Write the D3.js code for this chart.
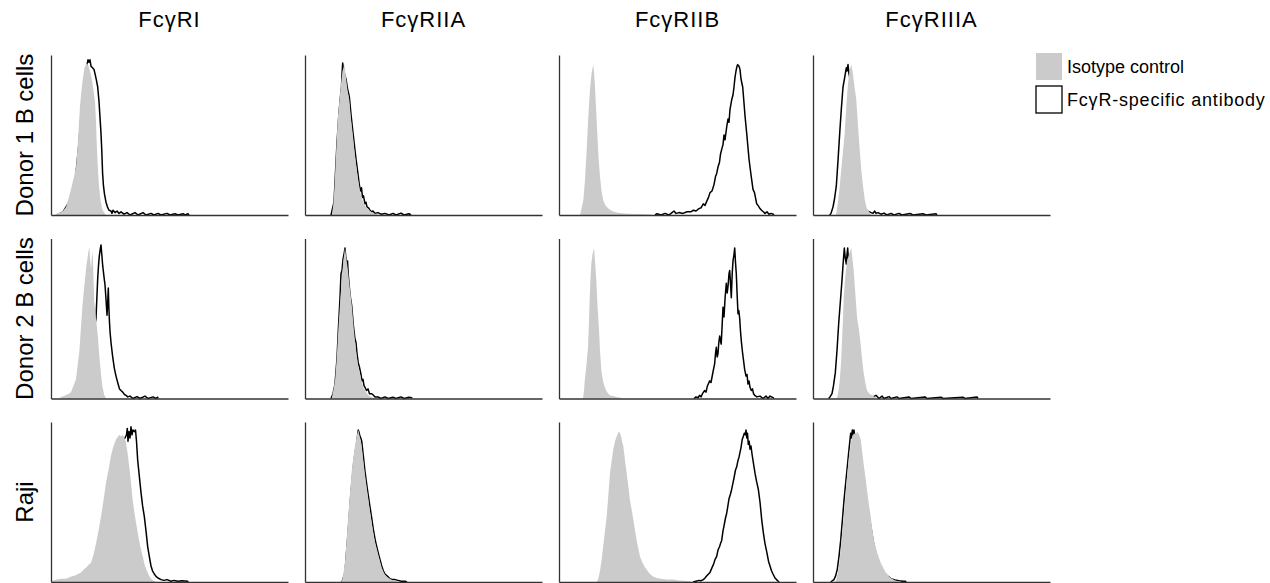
<!DOCTYPE html>
<html>
<head>
<meta charset="utf-8">
<script src="https://cdn.jsdelivr.net/npm/d3@7"></script>
<style>
  body { margin: 0; background: #fff; }
  text { font-family: "Liberation Sans", Arial, sans-serif; fill: #000; }
</style>
</head>
<body>
<div id="chart"></div>
<script>
const columns = ["FcγRI", "FcγRIIA", "FcγRIIB", "FcγRIIIA"];
const rows = ["Donor 1 B cells", "Donor 2 B cells", "Raji"];
const legendLabels = ["Isotype control", "FcγR-specific antibody"];

// histograms as [channel, % of max count]
// Donor 1 B cells
const d1RIiso = [[4,0],[6,1],[9,1.5],[12,2.5],[15,5],[17,9],[20,16],[23,24],[25,30],[26.5,42],[27.5,52],[29,68],[30.5,78],[32,86],[33.5,92],[35,94],[36,95],[37.5,93],[39,90],[41,84],[42.5,78],[44,71],[45,58],[46,40],[47,28],[48,18],[49.5,9],[51,4],[53,1.5],[55,0]];
const d1RIab = [[6,0],[12,2],[18,8],[24,20],[28,45],[31,72],[34,88],[36,94],[37,97],[38,95.5],[39,97],[40,93],[41.5,92],[43,91],[44.5,87],[45.5,84],[46.7,80],[48,71],[49,61],[50,51],[50.8,40],[51.6,26],[52.5,18],[53.5,13],[55,8],[56.5,5],[58,3],[60,2.5],[61,1],[62,3],[64,1.5],[66,2.5],[68,1],[70,2],[73,0.5],[76,1.5],[79,0],[84,1.5],[87,0],[92,1.5],[95,0],[100,1],[103,0],[107,1],[110,0],[116,1],[119,0],[124,0.8],[127,0],[132,0.8],[134,0],[137,0.8],[138,0]];
const d1RIIAiso = [[27,0],[28.5,8],[29.5,18],[31,38],[32.7,60],[34.5,72],[36,82],[37.5,90],[39.3,94],[41,86],[42.5,78],[44.3,72],[46,60],[47.7,51],[49.5,40],[51,32],[52.7,24],[54.5,17],[56,12],[57.7,9],[60,6],[62.7,4],[66,2],[69,1],[72,0.5],[75,0]];
const d1RIIAab = [[26,0],[29,8],[32,45],[34,64],[35.5,74],[36.5,80],[37,88],[37.7,95],[38.5,91],[39.5,88],[41,85],[42.5,79],[44.3,74],[46,63],[47.7,53],[49.5,43],[51,35],[52.7,27],[54.3,19],[55.5,15],[56.5,17],[57.5,11],[58.5,12],[60,7],[61,8],[62,5],[63.5,4.5],[65,3],[66.5,2],[68,2.5],[70,1],[73,1.5],[76,0.5],[80,1],[84,0],[88,1],[91,0],[96,1.2],[99,0],[104,0.8],[106,0]];
const d1RIIBiso = [[21,0],[22.5,4],[24.3,9],[26,22],[27.7,41],[29,58],[30.3,72],[31.5,82],[32.7,89],[34.3,94],[35.2,88],[36,80],[37.2,65],[38.3,51],[39.5,36],[41,24],[42.5,15],[44.3,9],[46.5,6],[49.3,4],[53,2.5],[57.7,1.5],[65,1],[75,0.7],[85,0.5],[91,0.3],[93,0]];
const d1RIIBab = [[96,0],[98,0.8],[102,0],[106,1],[110,0],[113,1.5],[115,2.5],[117,1],[120,1.5],[124,1],[128,2],[132,2],[134.3,3],[137,2.5],[140,4],[142,4.5],[144.3,7],[146,6],[148,9],[149.5,11],[151,14],[153,15],[155,19],[156.5,24],[157.7,26],[159,30],[160.5,33],[161.5,38],[162.7,41],[164,44],[165,50],[166,47],[167.7,55],[169,60],[170,58],[171,66],[172.7,72],[174,75],[175,80],[176,86],[177,90],[178,93],[178.7,94],[180,93],[181,91],[182,85],[183.7,80],[185,70],[186,62],[187.7,51],[189,42],[190,35],[191,30],[192.7,22],[194,16],[195.5,14],[197.7,7],[199,6],[201,4],[202.5,3],[204.3,2],[206,1],[208,2],[210,0.5],[212,1],[214.3,0.5],[215,0]];
const d1RIIIAiso = [[23,0],[25,8],[26.7,18],[28.5,30],[30,40],[31.7,51],[33.3,68],[35,82],[36.5,90],[38.3,94],[40,88],[41.5,80],[43.3,72],[45,56],[46.7,41],[48.3,28],[50,18],[51.7,10],[53.3,5],[55,3],[56.7,1.5],[58,0]];
const d1RIIIAab = [[16.7,0],[18,1],[20,5],[21.5,10],[23.3,18],[25,34],[26.7,51],[28.3,66],[30,80],[31.7,86],[33.3,92],[34,90],[35,94],[35.8,89],[36.7,86],[38,78],[40,62],[42,48],[44,36],[46,24],[48,14],[50,8],[52,4],[54,2.5],[56,2],[58,1.5],[60,1],[61.7,2.5],[63,1],[65,1.5],[68,0.5],[71,1.2],[74,0],[78,1],[81,0],[86,1],[89,0],[97,1],[100,0],[110,0.8],[113,0],[123,0.8],[124,0]];

// Donor 2 B cells
const d2RIiso = [[8,0],[10,1],[13,1.5],[16,2.5],[18,3],[20,4],[22.5,8],[25,12],[26.5,20],[28.3,29],[30,45],[31.7,60],[33.3,70],[35,81],[36.5,88],[37.5,92],[38.3,95],[39,88],[40,81],[40.8,88],[41.7,92],[42.5,75],[43.3,60],[45,50],[46.7,40],[48.3,27],[50,15],[51.5,7],[53.3,2],[55,0]];
const d2RIab = [[18,0],[24,4],[30,12],[36,24],[40,36],[43,44],[44.5,48],[45,50],[45.8,62],[46.7,75],[47.5,83],[48.3,89],[49.2,93],[50,96],[50.8,90],[51.7,83],[53,76],[54,71],[55,62],[56,52],[56.7,60],[57.3,69],[57.8,58],[58.3,50],[59,42],[60,35],[61.5,27],[63.3,19],[65,14],[66.7,10],[68.5,6],[70,5],[71.7,4],[73.5,2.5],[75,2],[76.7,1],[79,1.5],[82,0],[86,1.2],[89,0],[94,1.5],[97,0],[102,1],[105,0],[106.7,0.8],[107,0]];
const d2RIIAiso = [[26.7,0],[28.3,5],[30,11],[31.7,25],[33.3,43],[35,59],[36.7,74],[38.3,86],[40,94],[41.7,86],[43.3,78],[45,68],[46.7,59],[48.3,47],[50,36],[51.7,27],[53.3,20],[55.8,13],[58.3,7],[60.8,4],[63.3,2],[66,1],[68.3,0.5],[70,0]];
const d2RIIAab = [[26,0],[28,3],[30,9],[32,25],[33.5,45],[35,63],[36,78],[37,80],[38,87],[39,90],[40,94],[40.8,88],[41.7,84],[42.5,86],[43.3,77],[45,65],[46.7,58],[48.3,46],[50,37],[51,35],[52,28],[53.3,22],[54.3,20],[55,18],[56,15],[57,11],[58,12],[59,8],[60,7],[61.5,5],[63,6],[64.5,3],[66.7,3],[68.5,2],[70,1],[73,1],[76,0],[80,1],[83,0],[88,0.8],[91,0],[96,1],[99,0],[104,0.8],[106.7,0.5],[107,0]];
const d2RIIBiso = [[24,0],[25,5],[25.7,11],[27.3,20],[29,32],[30,48],[30.7,63],[31.5,75],[32.3,84],[33.5,90],[35,94],[36.2,84],[37.3,74],[38.5,58],[40,43],[41,30],[42.3,18],[44,11],[45.7,7],[48,4],[50.7,2],[54,1.5],[57.3,1],[62,0.5],[65,0]];
const d2RIIBab = [[135,0],[137,1],[139,0.5],[140.7,2],[142,1],[143.5,3],[145.7,5],[147,4],[148.5,8],[150.7,11],[152,10],[153.5,15],[155.7,22],[156.5,28],[157.3,32],[158.2,26],[159,28],[159.8,35],[160.7,39],[161.5,36],[162.2,34],[163,44],[164,57],[165,51],[166,62],[167.3,72],[168.2,66],[169,70],[170,78],[170.7,80],[171.5,72],[172.3,63],[173.2,78],[174,86],[175,90],[175.7,94],[176.5,85],[177.3,78],[178.2,64],[179,53],[179.8,55],[180.7,50],[181.5,42],[182.3,36],[183.3,30],[184.5,24],[185.7,18],[187,14],[188,15],[189,9],[190,11],[191,7],[192.3,5],[193.5,6],[194.5,3],[195.7,2],[198,1],[201,1.5],[204,0],[207,1.5],[209,0],[211,1.5],[214,0.5],[215,0]];
const d2RIIIAiso = [[24,0],[25.5,5],[26.7,11],[28,22],[29,36],[30,50],[30.7,63],[32.3,76],[34,86],[36,90],[38.3,94],[39.5,87],[40.7,80],[42.3,66],[44,51],[45.7,44],[47.3,36],[49,25],[50.7,16],[52.3,10],[54,5],[56.5,3],[59,2],[62,1],[65,0]];
const d2RIIIAab = [[15.7,0],[17,1],[19,3],[20.5,8],[22.3,16],[24,30],[25.7,47],[27.3,60],[29,74],[30.2,85],[31.3,94],[32.2,88],[33.3,84],[34,90],[34.7,94],[35.5,86],[36.5,78],[38,70],[40,58],[42,45],[44,34],[46,24],[48,15],[50,9],[52,5],[54,3],[56,2],[58,1.5],[60,1],[63,2],[66,0],[69,1.5],[71,0],[76,1.2],[78,0],[84,1],[86,0],[96,1],[98,0],[112,1],[114,0],[128,0.8],[130,0],[150,0.8],[152,0],[164,1],[165,0]];

// Raji
const rjRIiso = [[0,0],[2,1],[6,1.5],[10,2],[14,2],[17,2.5],[20,3.5],[24,4],[27,5],[30,6],[33,8],[36,9.5],[38,11],[40,12],[42.5,17],[45,24],[47.5,32],[50,41],[52.5,51],[55,62],[57.5,70],[60,79],[62.5,85],[65,89],[67,91],[68.5,92],[70,91],[71.7,92],[73.5,90],[75,87],[76.7,80],[78.3,72],[80,62],[81.7,51],[84,41],[86.7,31],[89,23],[91.7,16],[94,10],[96.7,6],[98.5,3.5],[100,2],[102,1],[105,0]];
const rjRIab = [[20,0],[30,3],[40,8],[50,30],[58,60],[64,80],[70,88],[74,90],[75.5,92],[76.3,96],[77,88],[78,94],[79,90],[80,97],[81,92],[82,95],[83.3,94],[84.5,95],[85.5,88],[86.7,76],[88,68],[90,56],[91.5,48],[93.3,41],[95,32],[96.7,22],[98.3,16],[100,10],[101.5,7],[103.3,5],[105,3.5],[107,2.5],[110,1.5],[113,1],[116,1.5],[120,0.5],[123,1],[127,0.5],[131,0.8],[136.7,0.5],[137,0]];
const rjRIIAiso = [[36.7,0],[38.3,5],[40,12.5],[41.7,27],[43.3,42],[45,56],[46.7,69],[48.3,78],[50,85],[51.7,91],[53.3,95],[55,90],[56.7,85],[58.3,76],[60,67],[61.7,59],[63.3,52],[65,44],[66.7,37],[68.3,31],[70,25],[71.7,21],[73.3,17],[75,13],[76.7,9],[78.3,6.5],[80,4.5],[82.5,3],[85,2],[88,1],[91,0.5],[94,0]];
const rjRIIAab = [[37,0],[40,6],[43,30],[46,56],[49,76],[51.5,86],[53.3,95],[54.2,93],[55,91],[55.8,90],[56.7,88],[58.3,79],[60,69],[61.7,61],[63.3,54],[65,47],[66.7,40],[68.3,33],[70,27],[71.7,22],[73.3,18],[75,14],[76.7,10],[78.3,7],[80,5],[82.5,3.5],[85,2],[87.5,1.5],[90,1.5],[93,1],[96,0.5],[100,0.5],[102,0]];
const rjRIIBiso = [[38,0],[39.3,2],[41,7],[42.7,14],[44.5,24],[46,32],[47.7,41],[49.3,54],[51,68],[52.7,76],[54.3,83],[56,88],[57.7,91],[59,93],[60.3,94],[61.5,92],[62.5,90],[63.3,87],[64.3,85],[66,76],[67.7,68],[69.3,60],[71,51],[72.7,45],[74.3,39],[76,32],[77.7,26],[79.3,21],[81,16],[83.5,12],[86,9],[88.5,7],[91,5],[94,3.5],[97.7,2.5],[102,2],[108,1.5],[114.3,1.5],[120,1],[126,0.8],[131,0.5],[133,0]];
const rjRIIBab = [[134,0],[137,0.5],[140,1],[142,0.8],[144.3,1.5],[146,2.5],[148,4],[149.5,5],[151,6],[153,9],[154.5,11],[156,14],[157.7,16],[159,20],[160.5,22],[161.5,24],[162.7,26],[164,32],[165,35],[166.5,40],[167.7,43],[169,48],[170,52],[171.5,55],[172.7,58],[174,62],[175,65],[176.5,70],[177.7,72],[179,76],[180,78],[181,81],[182,84],[183.2,89],[184.3,91],[185.3,93],[186.2,92],[187,95],[187.8,90],[188.5,93],[189.3,86],[190.2,88],[191,83],[192,85],[193,80],[194.5,74],[196,68],[197.5,63],[199.3,58],[201,50],[202.7,39],[204.3,31],[206,24],[208,18],[209.5,13],[211,10],[212.5,7],[214,5],[216,2.5],[217.5,1.5],[219.3,0.5],[220,0]];
const rjRIIIAiso = [[22.7,0],[24.3,4],[26,10],[27.7,20],[29.3,31],[31,43],[32.7,56],[34.3,68],[36,79],[37.7,86],[39.3,91],[41,93],[42.7,92],[44.3,94],[46,92],[47.7,89],[49.3,81],[51,72],[52.7,64],[54.3,56],[56,48],[57.7,41],[59.3,33],[61,26],[62.7,22],[64.3,18],[66,15],[67.7,12],[69.3,10],[71,8],[72.7,6],[74.3,5],[76,3.5],[77.7,2.5],[79.3,2],[82,1],[86,0.5],[88,0]];
const rjRIIIAab = [[17.7,0],[19.5,0.8],[21,1.5],[22.7,4],[24.3,8],[26,16],[27.7,26],[29.3,38],[31,51],[32.7,62],[34.3,72],[36,83],[37.7,93],[38.5,90],[39.3,95],[40.2,92],[41,95],[41.8,91],[42.7,91],[44,88],[46,82],[48,74],[50,65],[52,57],[54,49],[56,41],[58,34],[60,26],[62,20],[64,16],[66,12],[68,9],[70,7],[72,5],[74,4],[76,3],[78,2],[82,1.2],[86,0.8],[90,0.5],[92.7,0.5],[93,0]];

const isotype = [
    [d1RIiso, d1RIIAiso, d1RIIBiso, d1RIIIAiso],
    [d2RIiso, d2RIIAiso, d2RIIBiso, d2RIIIAiso],
    [rjRIiso, rjRIIAiso, rjRIIBiso, rjRIIIAiso]
];
const specific = [
    [d1RIab, d1RIIAab, d1RIIBab, d1RIIIAab],
    [d2RIab, d2RIIAab, d2RIIBab, d2RIIIAab],
    [rjRIab, rjRIIAab, rjRIIBab, rjRIIIAab]
];

const width = 1270;
const height = 583;
const panelW = 237;
const panelH = 160;
const left0 = 51, colStep = 254;
const top0 = 55, rowStep = 183.5;

const svg = d3.select("#chart")
    .append("svg")
    .attr("width", width)
    .attr("height", height);

const x = d3.scaleLinear().domain([0, 237]).range([0, panelW]);
const y = d3.scaleLinear().domain([0, 100]).range([panelH, 0]);

const area = d3.area()
    .x(d => x(d[0]))
    .y0(y(0))
    .y1(d => y(d[1]));

const line = d3.line()
    .x(d => x(d[0]))
    .y(d => y(d[1]));

// column titles
svg.selectAll(".col-title")
    .data(columns)
    .enter().append("text")
    .attr("class", "col-title")
    .attr("x", (d, i) => left0 + i * colStep + panelW / 2)
    .attr("y", 27)
    .attr("text-anchor", "middle")
    .style("font-size", "22px")
    .style("letter-spacing", "1px")
    .text(d => d);

// row labels
svg.selectAll(".row-label")
    .data(rows)
    .enter().append("text")
    .attr("class", "row-label")
    .attr("transform", (d, j) => `translate(33,${top0 + j * rowStep + panelH / 2}) rotate(-90)`)
    .attr("text-anchor", "middle")
    .style("font-size", "24px")
    .text(d => d);

rows.forEach((r, j) => {
    columns.forEach((c, i) => {
        const g = svg.append("g")
            .attr("transform", `translate(${left0 + i * colStep},${top0 + j * rowStep})`);

        // antibody line sits under the grey fill, as in the original overlay
        g.append("path")
            .datum(specific[j][i])
            .attr("d", line)
            .attr("fill", "none")
            .attr("stroke", "#000")
            .attr("stroke-width", 1.5)
            .attr("stroke-linejoin", "round");

        g.append("path")
            .datum(isotype[j][i])
            .attr("d", area)
            .attr("fill", "#cbcbcb");

        g.append("g")
            .call(d3.axisLeft(y).ticks(0).tickSizeOuter(0))
            .call(a => a.select(".domain").attr("stroke", "#333").attr("stroke-width", 1.3));

        g.append("g")
            .attr("transform", `translate(0,${panelH})`)
            .call(d3.axisBottom(x).ticks(0).tickSizeOuter(0))
            .call(a => a.select(".domain").attr("stroke", "#333").attr("stroke-width", 1.3));
    });
});

// legend
const legend = svg.append("g").attr("transform", "translate(1036,53)");
legend.append("rect")
    .attr("width", 26).attr("height", 27)
    .attr("fill", "#cbcbcb");
legend.append("rect")
    .attr("y", 33)
    .attr("width", 26).attr("height", 27)
    .attr("fill", "#fff")
    .attr("stroke", "#000")
    .attr("stroke-width", 1.3);
legend.selectAll("text")
    .data(legendLabels)
    .enter().append("text")
    .attr("x", 31)
    .attr("y", (d, i) => 20 + i * 33)
    .style("font-size", "18px")
    .style("letter-spacing", (d, i) => i ? "0.8px" : "0px")
    .text(d => d);
</script>
</body>
</html>
